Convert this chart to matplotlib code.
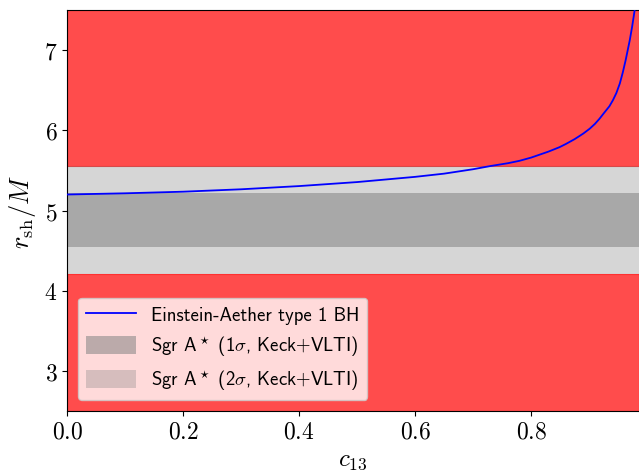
import numpy as np
import matplotlib
matplotlib.use("Agg")
import matplotlib.pyplot as plt

plt.rcParams['font.family'] = 'cmr10'
plt.rcParams['mathtext.fontset'] = 'cm'
plt.rcParams['axes.formatter.use_mathtext'] = True

# shadow radius
c13 = [0.0, 0.1, 0.2, 0.3, 0.4, 0.5, 0.6, 0.65, 0.7, 0.73, 0.76, 0.78,
       0.80, 0.83, 0.849, 0.86, 0.875, 0.89, 0.901, 0.91, 0.918, 0.925,
       0.935, 0.941, 0.947, 0.953, 0.958, 0.963, 0.970, 0.974, 0.977,
       0.980, 0.983]
r_sh = [5.20, 5.215, 5.235, 5.265, 5.305, 5.355, 5.42, 5.46, 5.515, 5.555,
        5.59, 5.62, 5.66, 5.735, 5.79, 5.83, 5.89, 5.96, 6.02, 6.08, 6.145,
        6.21, 6.30, 6.375, 6.465, 6.585, 6.72, 6.875, 7.12, 7.285, 7.425,
        7.57, 7.75]

# Sgr A* bounds
one_sigma = [4.55, 5.22]
two_sigma = [4.21, 5.56]

xlim = (0.0, 0.986)
ylim = (2.5, 7.5)

fig = plt.figure(figsize=(6.39, 4.77), dpi=100)
ax = fig.add_axes([0.105, 0.136, 0.895, 0.841])

xs = np.array(xlim)
ax.fill_between(xs, two_sigma[1], ylim[1], color='red', alpha=0.7, lw=0.8)
ax.fill_between(xs, ylim[0], two_sigma[0], color='red', alpha=0.7, lw=0.8)
ax.fill_between(xs, two_sigma[0], two_sigma[1], color='gray', alpha=0.32,
                lw=0, label=r'Sgr A$^\star$ (2$\sigma$, Keck$+$VLTI)')
ax.fill_between(xs, one_sigma[0], one_sigma[1], color='gray', alpha=0.53,
                lw=0, label=r'Sgr A$^\star$ (1$\sigma$, Keck$+$VLTI)')
ax.plot(c13, r_sh, color='blue', lw=1.3, label='Einstein-Aether type 1 BH',
        zorder=5)

ax.set_xlim(*xlim)
ax.set_ylim(*ylim)
ax.set_xticks([0.0, 0.2, 0.4, 0.6, 0.8])
ax.set_yticks([3, 4, 5, 6, 7])
ax.tick_params(labelsize=17)
ax.spines['right'].set_visible(False)
ax.set_xlabel(r'$c_{13}$', fontsize=18)
ax.set_ylabel(r'$r_{\rm sh}/M$', fontsize=19)

h, l = ax.get_legend_handles_labels()
order = [2, 1, 0]
ax.legend([h[i] for i in order], [l[i] for i in order], loc='lower left',
          prop={'family': 'cmss10', 'size': 13.5}, handlelength=2.7,
          handleheight=1.1, borderaxespad=0.6)

fig.savefig('out.png', dpi=100)
